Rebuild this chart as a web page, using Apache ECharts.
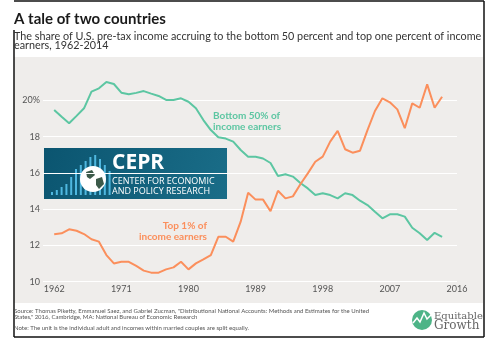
<!DOCTYPE html>
<html><head><meta charset="utf-8">
<script src="https://cdn.jsdelivr.net/npm/echarts@6/dist/echarts.min.js"></script>
<style>html,body{margin:0;padding:0;background:#fff}#c{width:495px;height:349px}</style>
</head><body><div id="c"></div>
<script>
const years = [];
for (let y = 1962; y <= 2014; y++) years.push(y);
const bottom50 = [19.48,19.1,18.74,19.15,19.57,20.49,20.67,21.02,20.91,20.43,20.34,20.42,20.52,20.38,20.25,20.03,20.03,20.12,19.93,19.57,18.92,18.37,17.97,17.9,17.73,17.27,16.9,16.9,16.8,16.55,15.83,15.93,15.8,15.45,15.15,14.78,14.88,14.78,14.6,14.88,14.78,14.47,14.23,13.86,13.5,13.72,13.72,13.59,12.98,12.67,12.3,12.7,12.48];
const top1 = [12.62,12.67,12.89,12.81,12.63,12.34,12.21,11.47,11.01,11.1,11.1,10.87,10.61,10.5,10.5,10.68,10.79,11.1,10.68,11.01,11.23,11.47,12.48,12.48,12.21,13.31,14.91,14.53,14.53,13.89,15.02,14.6,14.71,15.38,15.98,16.62,16.9,17.73,18.32,17.31,17.12,17.23,18.37,19.42,20.12,19.9,19.51,18.47,19.84,19.6,20.89,19.6,20.21];
const xTicks = [1962,1971,1980,1989,1998,2007,2016];
const yTicks = [10,12,14,16,18,20];

const TEAL = '#5cc6a2', ORANGE = '#fb8f5c';
const FONT = 'Lato';
const chart = echarts.init(document.getElementById('c'));

const cepBars = [];
const barH = [3,5,8,11,18,26,30,34,38,40,36,30,24];
barH.forEach((h,i)=>{
  cepBars.push({type:'rect', shape:{x:51+i*4.8, y:195-h, width:2, height:h}, style:{fill:'#4fb8e0'}});
});

chart.setOption({
  animation:false,
  backgroundColor:'#ffffff',
  grid:{left:43,right:38,top:100.5,bottom:67.3,containLabel:false},
  xAxis:{type:'value',min:1960.5,max:2016,
    axisLine:{show:false},axisTick:{show:false},splitLine:{show:false},
    axisLabel:{customValues:xTicks,formatter:v=>String(v),margin:3,fontFamily:FONT,fontSize:9,color:'#555'}},
  yAxis:{type:'value',min:10,max:20,interval:2,
    axisLine:{show:false},axisTick:{show:false},
    splitLine:{show:true,lineStyle:{color:'#ffffff',width:1}},
    axisLabel:{formatter:v=>v===20?'20%':String(v),margin:3,fontFamily:FONT,fontSize:9,color:'#555'}},
  series:[
    {type:'line',name:'Bottom 50%',data:years.map((y,i)=>[y,bottom50[i]]),showSymbol:false,clip:false,
     lineStyle:{color:TEAL,width:2},itemStyle:{color:TEAL},z:3},
    {type:'line',name:'Top 1%',data:years.map((y,i)=>[y,top1[i]]),showSymbol:false,clip:false,
     lineStyle:{color:ORANGE,width:2},itemStyle:{color:ORANGE},z:3}
  ],
  graphic:[
    {type:'rect',z:-10,silent:true,shape:{x:14,y:57,width:469,height:246},style:{fill:'#efedeb'}},
    {type:'line',z:10,shape:{x1:14,y1:1,x2:484,y2:1},style:{stroke:'#111',lineWidth:1.5}},
    {type:'line',z:10,shape:{x1:484,y1:1,x2:484,y2:337},style:{stroke:'#111',lineWidth:1.5}},
    {type:'line',z:10,shape:{x1:14,y1:337,x2:484,y2:337},style:{stroke:'#111',lineWidth:1.5}},
    {type:'line',z:10,shape:{x1:14,y1:30,x2:14,y2:337},style:{stroke:'#111',lineWidth:1.5}},
    {type:'text',z:20,style:{x:14,y:19,text:'A tale of two countries',font:'bold 15px Lato',fill:'#1a1a1a',textVerticalAlign:'middle'}},
    {type:'text',z:20,style:{x:14,y:37,text:'The share of U.S. pre-tax income accruing to the bottom 50 percent and top one percent of income',font:'10.8px Lato',fill:'#333',textVerticalAlign:'middle'}},
    {type:'text',z:20,style:{x:14,y:46,text:'earners, 1962-2014',font:'10.8px Lato',fill:'#333',textVerticalAlign:'middle'}},
    {type:'text',z:20,style:{x:213,y:116,text:'Bottom 50% of',font:'bold 10px Lato',fill:TEAL,textVerticalAlign:'middle'}},
    {type:'text',z:20,style:{x:213,y:127,text:'income earners',font:'bold 10px Lato',fill:TEAL,textVerticalAlign:'middle'}},
    {type:'text',z:20,style:{x:207,y:225.5,text:'Top 1% of',font:'bold 10px Lato',fill:ORANGE,textAlign:'right',textVerticalAlign:'middle'}},
    {type:'text',z:20,style:{x:207,y:236.5,text:'income earners',font:'bold 10px Lato',fill:ORANGE,textAlign:'right',textVerticalAlign:'middle'}},
    {type:'group',z:30,children:[
      {type:'rect',shape:{x:44,y:148,width:183,height:51},style:{fill:new echarts.graphic.LinearGradient(0,0,1,1,[{offset:0,color:'#0b5570'},{offset:1,color:'#1a6d88'}])}},
      ...cepBars,
      {type:'circle',shape:{cx:93,cy:179,r:13},style:{fill:'#ffffff'}},
      {type:'polygon',shape:{points:[[86,172],[92,170],[95,175],[90,179],[87,177]]},style:{fill:'#3c5a4a'}},
      {type:'polygon',shape:{points:[[96,179],[102,177],[104,184],[99,189],[96,185]]},style:{fill:'#3c5a4a'}},
      {type:'text',style:{x:112,y:163,text:'CEPR',font:'bold 21px "Open Sans"',fill:'#fff',textVerticalAlign:'middle'}},
      {type:'text',style:{x:112,y:181.5,text:'CENTER FOR ECONOMIC',font:'9px "Open Sans"',fill:'#fff',textVerticalAlign:'middle'}},
      {type:'text',style:{x:112,y:191.5,text:'AND POLICY RESEARCH',font:'9px "Open Sans"',fill:'#fff',textVerticalAlign:'middle'}}
    ]},
    {type:'text',z:20,style:{x:14,y:311,text:'Source: Thomas Piketty, Emmanuel Saez, and Gabriel Zucman, "Distributional National Accounts: Methods and Estimates for the United',font:'6px Lato',fill:'#555',textVerticalAlign:'middle'}},
    {type:'text',z:20,style:{x:14,y:317,text:'States," 2016, Cambridge, MA: National Bureau of Economic Research',font:'6px Lato',fill:'#555',textVerticalAlign:'middle'}},
    {type:'text',z:20,style:{x:14,y:328,text:'Note: The unit is the individual adult and incomes within married couples are split equally.',font:'6px Lato',fill:'#555',textVerticalAlign:'middle'}},
    {type:'circle',z:20,shape:{cx:422,cy:320,r:10},style:{fill:'#4db487'}},
    {type:'polyline',z:21,shape:{points:[[413,323],[417,318],[420,322],[424,313],[427,319],[431,315]]},style:{stroke:'#fff',lineWidth:1.5,fill:null}},
    {type:'text',z:20,style:{x:434,y:316,text:'Equitable',font:'10px "DejaVu Serif"',fill:'#666',textVerticalAlign:'middle'}},
    {type:'text',z:20,style:{x:434,y:326,text:'Growth',font:'12px "DejaVu Serif"',fill:'#666',textVerticalAlign:'middle'}}
  ]
});
</script></body></html>
